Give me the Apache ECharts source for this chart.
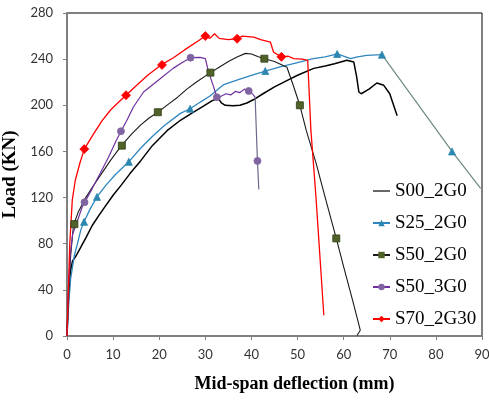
<!DOCTYPE html>
<html>
<head>
<meta charset="utf-8">
<script src="https://cdn.jsdelivr.net/npm/echarts@6/dist/echarts.min.js"></script>
<style>
html,body{margin:0;padding:0;background:#fff;}
#c{width:489px;height:402px;}
</style>
</head>
<body>
<div id="c"></div>
<script>
// ---- data (mid-span deflection mm, load kN) ----
const xTicks = [0, 10, 20, 30, 40, 50, 60, 70, 80, 90];
const yTicks = [0, 40, 80, 120, 160, 200, 240, 280];
const seriesNames = ['S00_2G0', 'S25_2G0', 'S50_2G0', 'S50_3G0', 'S70_2G30'];

const s00 = [[0,0],[0.3,30],[0.7,55],[1.2,65],[1.9,69],[3,77],[4.2,86],[5.5,96],[7,105],[8.4,113],[10,122],[11.8,131],[13.7,141],[16,152],[18.5,165],[21.7,178],[24.6,187],[27,193],[29.5,199],[31.5,204],[32.8,206],[33.5,202],[34.3,200],[36,199.5],[37.5,200],[39,202],[40.5,205],[42.5,210],[45,216],[48,222],[50,226],[53.5,232],[56,234],[58,236],[60.7,239],[62.2,237.5],[62.8,225],[63.3,211.5],[63.8,210],[65.5,214],[67.2,219.3],[68.7,217.3],[70,210],[70.5,204],[71.6,191]];

const s25 = [[0,0],[0.4,30],[0.8,50],[1.2,60],[1.6,70],[2.2,79],[3,92],[3.7,99],[5,110],[6.5,120.6],[8.5,131],[10.5,140],[13.4,151],[16,163],[18.5,173],[21,182],[24.6,193],[26.7,197],[29,203],[31,208],[34,218],[37,222],[40,226],[43,229.7],[46,233],[50,237],[53.4,240.4],[56,242],[58.6,244.5],[61.5,240.5],[63,242],[65,243.3],[68.3,243.9]];
const s25Tail = [[68.3,243.9],[83.5,160],[89.7,128]];
const s25Marks = [[3.7,99],[6.5,120.6],[13.4,151],[26.7,197],[43,229.7],[58.6,244.5],[68.3,243.9],[83.5,160]];

const s50a = [[0,0],[0.4,40],[0.8,70],[1.4,96],[2.5,108],[4,119.5],[5.5,129],[7.2,139],[9.4,152],[11.8,165],[14,175],[16,183],[17.8,189],[19.7,194],[22,201],[24,207],[26,214],[28,220],[31.1,228.3],[33,233],[35,238],[37,242],[38.7,245],[40,244.5],[41.5,242],[42.8,240.4],[45,238],[47.7,233],[49,218],[50.5,200],[51.9,178],[54,150],[56,120],[58.4,84.6],[60,60],[62,30],[63.6,5],[62.9,0.5]];
const s50aMarks = [[1.6,97],[11.9,165],[19.7,194],[31.1,228.3],[42.8,240.4],[50.5,200],[58.4,84.6]];

const s50b = [[0,0],[0.3,40],[0.7,70],[1.2,88],[2.2,99],[3.3,112],[4,117],[5.5,128],[7.2,141],[9,155],[10.5,168],[11.7,177.5],[13,187],[14.4,198.5],[16.6,211.5],[20.2,223],[23,232],[25,237],[26.8,241.3],[28.9,241.5],[30,240.5],[30.7,229],[31.8,216],[32.5,207],[33.5,208],[34.5,210],[35.5,209],[36.5,212],[37.5,211],[38.5,214],[39.4,212.4],[40.2,210],[40.8,207]];
const s50bTail = [[40.8,207],[41.3,151.8],[41.6,127]];
const s50bMarks = [[3.8,116],[11.7,177.5],[26.8,241.3],[32.5,207],[39.4,212.4],[41.3,151.8]];

const s70 = [[0,0],[0.3,40],[0.6,80],[1.15,118],[1.8,135],[2.8,150],[3.75,162],[5.8,175.5],[7.5,186],[9.4,195.7],[11,202],[12.8,208.7],[15,217],[17.5,226],[20.4,235],[23,241],[25.5,248],[28.5,256],[30,260],[31,258],[32,262],[33,258],[35,257],[36.9,257.7],[38,260],[40.5,259],[42,257],[44.1,254.8],[44.8,246],[46.5,242],[48,242.5],[49.2,240.4],[51,240],[52.2,239],[52.9,178],[54,120],[55,60],[55.7,18]];
const s70Marks = [[3.75,162],[12.8,208.7],[20.6,235],[30,260],[36.9,257.7],[46.5,242]];

// ---- chart ----
const serif = 'Liberation Serif';
const chart = echarts.init(document.getElementById('c'), null, {renderer: 'canvas'});

function lineSeries(name, data, lineColor, markColor, symbol, width) {
  return {
    name: name, type: 'line', data: data, symbol: symbol, symbolSize: 7,
    showSymbol: false, animation: false, silent: true, z: 2,
    lineStyle: {color: lineColor, width: width},
    itemStyle: {color: markColor}
  };
}
function tailSeries(data, color) {
  return {type: 'line', data: data, symbol: 'none', animation: false, silent: true, z: 2,
    lineStyle: {color: color, width: 1.2}};
}
function markSeries(data, color, symbol, size, border) {
  return {type: 'scatter', data: data, symbol: symbol, symbolSize: size, animation: false, silent: true, z: 3,
    itemStyle: {color: color, borderColor: border || color, borderWidth: 0.8, opacity: 1}};
}

chart.setOption({
  backgroundColor: '#fff',
  animation: false,
  grid: {left: 67, right: 7, top: 13, bottom: 66, outerBoundsMode: 'none', containLabel: false,
    show: true, borderColor: '#000', borderWidth: 1, backgroundColor: 'transparent'},
  xAxis: {
    type: 'value', min: xTicks[0], max: xTicks[xTicks.length - 1], interval: 10,
    name: 'Mid-span deflection (mm)', nameLocation: 'middle', nameGap: 39,
    nameTextStyle: {fontFamily: serif, fontWeight: 'bold', fontSize: 18, color: '#000', padding: [0, 0, 0, 40]},
    axisLine: {show: true, onZero: false, lineStyle: {color: '#7f7f7f', width: 2}},
    axisTick: {show: true, length: 4, inside: false, lineStyle: {color: '#7f7f7f', width: 1}},
    axisLabel: {fontFamily: 'Lato', fontSize: 13, color: '#333', margin: 12},
    splitLine: {show: false}
  },
  yAxis: {
    type: 'value', min: yTicks[0], max: yTicks[yTicks.length - 1], interval: 40,
    name: 'Load (KN)', nameLocation: 'middle', nameGap: 39,
    nameTextStyle: {fontFamily: serif, fontWeight: 'bold', fontSize: 19, color: '#000'},
    axisLine: {show: true, onZero: false, lineStyle: {color: '#7f7f7f', width: 2}},
    axisTick: {show: true, length: 4, inside: false, lineStyle: {color: '#7f7f7f', width: 1}},
    axisLabel: {fontFamily: 'Lato', fontSize: 13, color: '#333', margin: 14},
    splitLine: {show: false}
  },
  legend: {
    orient: 'vertical', left: 372, top: 181, padding: 0,
    itemWidth: 17, itemHeight: 8, itemGap: 12,
    textStyle: {fontFamily: serif, fontSize: 19, color: '#000', lineHeight: 20},
    data: [
      {name: seriesNames[0], icon: 'path://M0,0L20,0L20,1.4L0,1.4Z'},
      {name: seriesNames[1]},
      {name: seriesNames[2]},
      {name: seriesNames[3]},
      {name: seriesNames[4]}
    ]
  },
  series: [
    lineSeries(seriesNames[0], s00, '#000000', '#000000', 'none', 1.5),
    lineSeries(seriesNames[1], s25, '#2f86bf', '#2b87b0', 'triangle', 1.3),
    lineSeries(seriesNames[2], s50a, '#1a1a1a', '#4f6228', 'rect', 1.1),
    lineSeries(seriesNames[3], s50b, '#7030a0', '#8064a2', 'circle', 1.2),
    lineSeries(seriesNames[4], s70, '#ff0000', '#ff0000', 'diamond', 1.3),
    tailSeries(s25Tail, '#6d8a80'),
    tailSeries(s50bTail, '#6a6a8a'),
    markSeries(s25Marks, '#2b87b0', 'triangle', 7),
    markSeries(s50aMarks, '#4f6228', 'rect', 7, '#2f3d16'),
    markSeries(s50bMarks, '#8064a2', 'circle', 7),
    markSeries(s70Marks, '#ff0000', 'diamond', 9)
  ]
});
</script>
</body>
</html>
